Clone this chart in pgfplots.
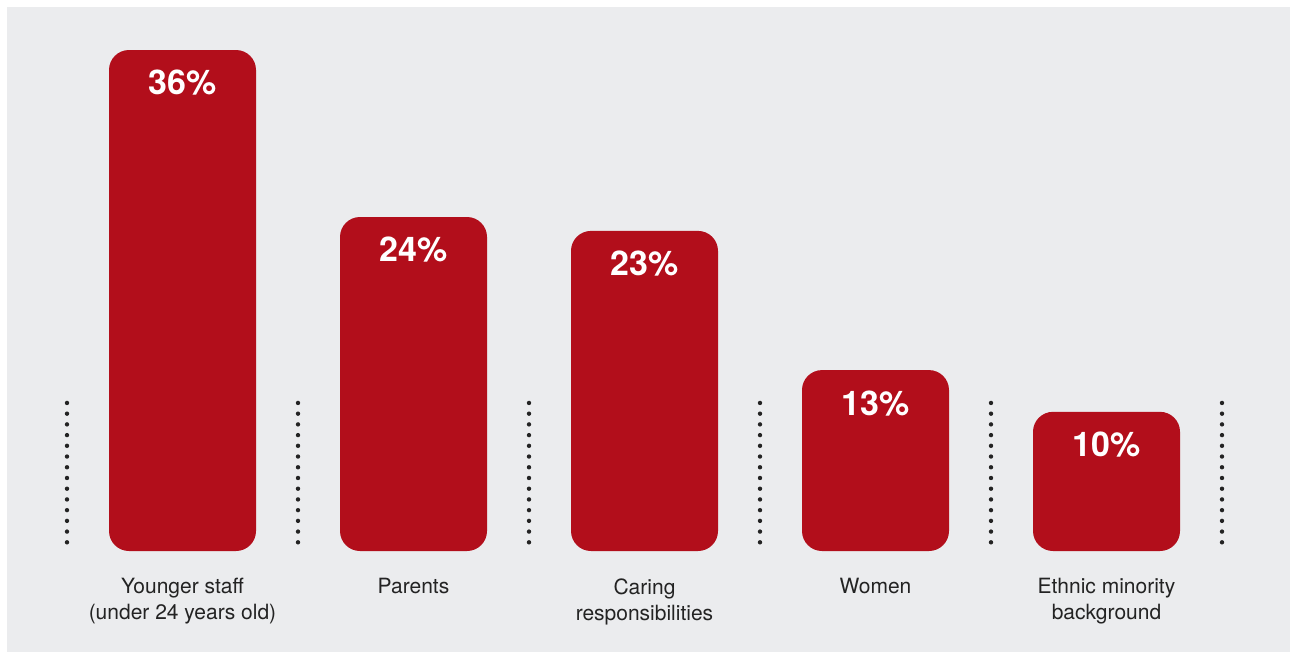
\documentclass[border=0pt]{standalone}
\usepackage{fontspec}
\setmainfont{TeX Gyre Heros}
\usepackage{pgfplots}
\pgfplotsset{compat=1.18}
\definecolor{barred}{RGB}{178,14,27}
\definecolor{bg}{RGB}{235,236,238}
\definecolor{txt}{RGB}{35,35,35}
\begin{document}
\begin{tikzpicture}
\path[use as bounding box, fill=white] (-33.5pt,275.5pt) rectangle (614.5pt,-52pt);
\fill[bg] (-30pt,272pt) rectangle (611.5pt,-50.5pt);
\begin{axis}[
  at={(0pt,0pt)}, anchor=south west,
  scale only axis, width=577.5pt, height=250.5pt,
  xmin=-0.5, xmax=4.5, ymin=0, ymax=36,
  axis line style={draw=none}, tick style={draw=none},
  ytick=\empty,
  xtick={0,1,2,3,4},
  xticklabels={{Younger staff\\(under 24 years old)}, Parents, {Caring\\responsibilities}, Women, {Ethnic minority\\background}},
  xticklabel style={font=\fontsize{10.5}{13}\selectfont, text=txt, align=center, yshift=-6pt},
  ybar, bar width=73.5pt,
  clip=false,
  nodes near coords={\pgfplotspointmeta\%},
  point meta=explicit symbolic,
  every node near coord/.append style={font=\fontsize{17}{17}\selectfont\bfseries, text=white, anchor=center, yshift=-16.5pt},
]
\addplot[fill=barred, draw=none, rounded corners=10pt] table[meta=label] {
x y label
0 36 36
1 24 24
2 23 23
3 13 13
4 10 10
};
\pgfplotsinvokeforeach{-0.5,0.5,1.5,2.5,3.5,4.5}{
  \draw[txt, line width=2.2pt, line cap=round, dash pattern=on 0pt off 5.36pt] (axis cs:#1,0.625) -- (axis cs:#1,10.67);
}
\end{axis}
\end{tikzpicture}
\end{document}
